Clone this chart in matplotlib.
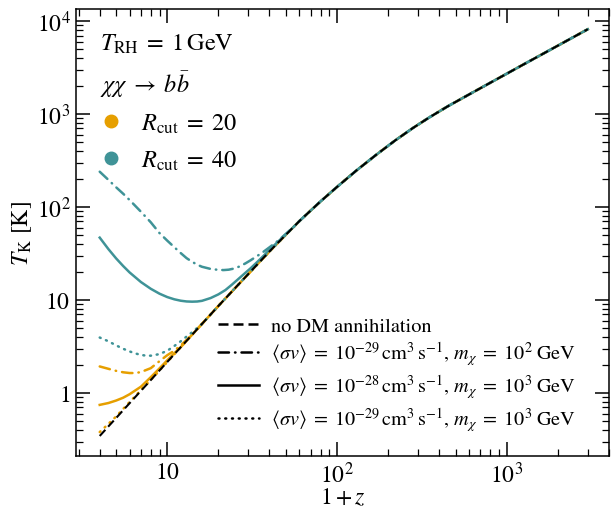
import numpy as np
import matplotlib
matplotlib.use("Agg")
import matplotlib.pyplot as plt
from matplotlib.lines import Line2D
from matplotlib.ticker import LogLocator, NullFormatter

plt.rcParams['font.family'] = ['STIXGeneral', 'DejaVu Serif']
plt.rcParams['mathtext.fontset'] = 'stix'

# ---------------- data ----------------
# no DM annihilation (black dashed)
z_base = [4, 4.5, 5, 5.5, 6, 7, 8, 9, 10, 11, 12, 14, 16, 18, 20, 22.4, 25, 28,
          31, 34, 37, 40, 45, 50, 55, 60, 70, 80, 90, 100, 115, 130, 150, 170,
          190, 220, 250, 280, 310, 350, 400, 450, 520, 600, 700, 800, 1000,
          1200, 1500, 2000, 2500, 3000]
T_base = [0.345, 0.437, 0.539, 0.653, 0.777, 1.057, 1.380, 1.747, 2.157, 2.610,
          3.106, 4.229, 5.524, 6.990, 8.630, 10.76, 13.34, 16.63, 20.28, 24.29,
          28.64, 33.3, 41.5, 50.4, 60.1, 70.6, 91.8, 115.1, 139.0, 164.6, 204.4,
          247.1, 304.0, 364.6, 425.0, 520.4, 612.8, 708.4, 799.0, 921.7, 1067.6,
          1215, 1407, 1627, 1900, 2174, 2720, 3270, 4087, 5450, 6812, 8175]

# R_cut = 40 (teal)
z_t_dd = [4, 4.5, 5, 5.5, 6, 7, 8, 9, 10, 11, 12, 13, 14, 15, 16, 18, 20, 21.5,
          23, 25, 27, 29, 31, 34, 37, 40, 45, 50]
T_t_dd = [240, 196, 163, 139, 119, 89, 68.5, 52.5, 43.5, 37.0, 32.0, 28.2, 25.8,
          24.0, 22.8, 21.6, 21.1, 21.0, 21.2, 21.9, 23.2, 24.9, 26.8, 29.9, 33.2,
          36.9, 43.5, 51.5]
z_t_s = [4, 4.5, 5, 5.5, 6, 7, 8, 9, 10, 11, 12, 13, 14, 15, 16, 18, 20, 22, 24,
         26, 28, 31, 34, 37, 40, 45, 50]
T_t_s = [46.9, 35.3, 28.0, 23.2, 19.8, 15.6, 13.2, 11.7, 10.76, 10.18, 9.83,
         9.65, 9.6, 9.64, 9.8, 10.5, 11.5, 12.8, 14.6, 16.6, 18.7, 22.0, 25.8,
         30.0, 34.8, 42.5, 51.2]
z_t_d = [4, 4.5, 5, 5.5, 6, 6.5, 7, 7.5, 8, 9, 10, 11, 12, 13, 14]
T_t_d = [3.95, 3.6, 3.25, 2.99, 2.8, 2.66, 2.57, 2.52, 2.52, 2.62, 2.85, 3.2,
         3.6, 4.05, 4.5]

# R_cut = 20 (orange)
z_o_dd = [4, 4.5, 5, 5.5, 6, 6.5, 7, 8, 9, 10, 11, 12]
T_o_dd = [1.93, 1.82, 1.73, 1.67, 1.64, 1.64, 1.68, 1.85, 2.2, 2.55, 2.85, 3.25]
z_o_s = [4, 4.5, 5, 5.5, 6, 7, 8, 9, 10, 11]
T_o_s = [0.745, 0.78, 0.83, 0.89, 0.97, 1.17, 1.48, 1.84, 2.25, 2.68]
z_o_d = [4, 4.5, 5, 6, 7]
T_o_d = [0.38, 0.465, 0.56, 0.80, 1.075]

xticks = [10, 100, 1000]
xticklabels = ['$10$', '$10^2$', '$10^3$']
yticks = [1, 10, 100, 1000, 10000]
yticklabels = ['$1$', '$10$', '$10^2$', '$10^3$', '$10^4$']

c_orange = '#E69F00'
c_teal = '#3F9397'

DASHDOT = (0, (4.2, 2.4, 0.2, 2.4))
DOT = (0, (0.4, 2.3))
DASH = (0, (4, 2))


def extend(z, T):
    """continue a curve along the no-DM curve after it merges"""
    zl = list(z)
    Tl = list(T)
    for zb, tb in zip(z_base, T_base):
        if zb > zl[-1]:
            zl.append(zb)
            Tl.append(tb)
    return zl, Tl


fig = plt.figure(figsize=(6.11, 5.10), dpi=100)
ax = fig.add_axes([0.1244, 0.1039, 0.8723, 0.8765])

lw = 1.8
for (z, T, ls) in [(z_o_dd, T_o_dd, DASHDOT), (z_o_s, T_o_s, '-'), (z_o_d, T_o_d, DOT)]:
    zz, TT = extend(z, T)
    ax.plot(zz, TT, color=c_orange, lw=lw, ls=ls, zorder=1,
            dash_capstyle='round', solid_joinstyle='round')
for (z, T, ls) in [(z_t_dd, T_t_dd, DASHDOT), (z_t_s, T_t_s, '-'), (z_t_d, T_t_d, DOT)]:
    zz, TT = extend(z, T)
    ax.plot(zz, TT, color=c_teal, lw=lw, ls=ls, zorder=2,
            dash_capstyle='round', solid_joinstyle='round')
ax.plot(z_base, T_base, color='black', lw=1.5, ls=DASH, zorder=3)

ax.set_xscale('log')
ax.set_yscale('log')
ax.set_xlim(2.9, 4000)
ax.set_ylim(0.21, 1.35e4)

ax.set_xticks(xticks)
ax.set_xticklabels(xticklabels)
ax.set_yticks(yticks)
ax.set_yticklabels(yticklabels)
ax.xaxis.set_minor_locator(LogLocator(base=10, subs=np.arange(2, 10)))
ax.yaxis.set_minor_locator(LogLocator(base=10, subs=np.arange(2, 10)))
ax.xaxis.set_minor_formatter(NullFormatter())
ax.yaxis.set_minor_formatter(NullFormatter())
ax.tick_params(which='both', direction='in', top=True, right=True, labelsize=17)
ax.tick_params(which='major', length=10, width=1.1, pad=4)
ax.tick_params(which='minor', length=5, width=0.9)
for s in ax.spines.values():
    s.set_linewidth(1.1)

ax.set_xlabel('$1+z$', fontsize=17, labelpad=0)
ax.set_ylabel(r'$T_{\rm K}$ [K]', fontsize=17, labelpad=2)

ax.text(0.045, 0.950, r'$T_{\rm RH}\; = \;1\,{\rm GeV}$', transform=ax.transAxes,
        fontsize=17.5, va='top', ha='left')
ax.text(0.045, 0.868, r'$\chi\chi \;\rightarrow\; b\bar{b}$', transform=ax.transAxes,
        fontsize=17.5, va='top', ha='left')

h_col = [Line2D([], [], color=c_orange, marker='o', ls='none', ms=9),
         Line2D([], [], color=c_teal, marker='o', ls='none', ms=9)]
leg1 = ax.legend(h_col, [r'$R_{\rm cut}\; = \;20$', r'$R_{\rm cut}\; = \;40$'],
                 loc='upper left', bbox_to_anchor=(-0.012, 0.808), frameon=False,
                 fontsize=17.5, handletextpad=0.25, labelspacing=0.56,
                 borderaxespad=0.3)
ax.add_artist(leg1)

h_ls = [Line2D([], [], color='black', lw=1.8, ls=DASH),
        Line2D([], [], color='black', lw=1.8, ls=DASHDOT, dash_capstyle='round'),
        Line2D([], [], color='black', lw=1.8, ls='-'),
        Line2D([], [], color='black', lw=1.8, ls=DOT, dash_capstyle='round')]
lab_ls = ['no DM annihilation',
          r'$\langle\sigma v\rangle\; =\; 10^{-29}\,{\rm cm}^3\,{\rm s}^{-1},\, m_\chi\; =\; 10^2\;{\rm GeV}$',
          r'$\langle\sigma v\rangle\; =\; 10^{-28}\,{\rm cm}^3\,{\rm s}^{-1},\, m_\chi\; =\; 10^3\;{\rm GeV}$',
          r'$\langle\sigma v\rangle\; =\; 10^{-29}\,{\rm cm}^3\,{\rm s}^{-1},\, m_\chi\; =\; 10^3\;{\rm GeV}$']
ax.legend(h_ls, lab_ls, loc='lower right', bbox_to_anchor=(0.965, 0.02),
          frameon=False, fontsize=14.6, handlelength=2.0, handletextpad=0.6,
          labelspacing=0.24, borderaxespad=0.3)

fig.savefig('out.png', dpi=100)
